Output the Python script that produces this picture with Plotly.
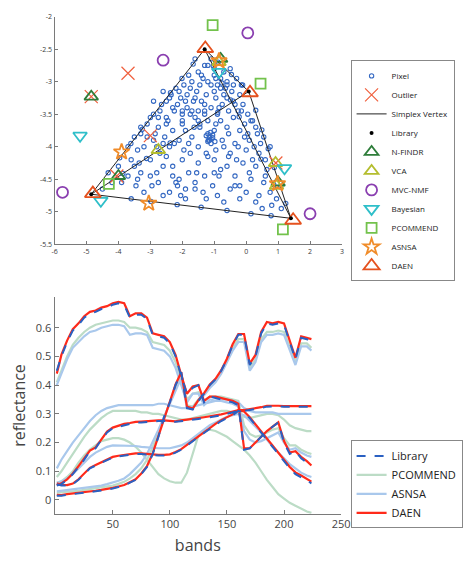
import plotly.graph_objects as go

# ---------------- top panel data ----------------
pixel_x = [-1.2,-1.0,-0.7,-1.5,-1.35,-0.95,-0.6,-0.3,-1.7,-1.95,-1.1,-0.8,-0.45,-2.2,-1.55,-2.35,-1.85,-1.25,-0.95,-0.6,-0.2,-2.05,-1.65,-1.4,-2.5,-0.35,-0.75,-1.1,-1.85,-2.25,-2.7,-1.5,-0.55,-0.1,
           -3.0,-2.5,-2.0,-1.6,-1.2,-0.8,-0.4,0.05,-3.3,-2.75,-2.3,-1.9,-1.45,-1.0,-0.6,-0.2,0.3,-3.5,-2.9,-2.55,-2.1,-1.7,-1.15,-1.15,-1.1,-0.75,-0.35,0.1,0.55,-3.2,-2.4,-1.95,-1.5,-0.95,-0.5,0.0,0.4,0.75,
           -3.6,-3.0,-2.5,-2.0,-1.5,-1.0,-0.6,-0.1,0.3,0.65,-3.3,-2.8,-2.3,-1.8,-1.3,-0.85,-0.35,0.15,0.55,-3.9,-3.45,-2.95,-2.15,-1.6,-1.05,-0.5,0.0,0.4,0.75,-2.6,-1.9,-1.25,-0.7,-0.2,0.3,0.8,-3.2,-2.2,
           -4.32,-3.96,-3.61,-3.25,-2.90,-2.65,-2.37,-2.01,-1.66,
           -3.6,-2.98,-2.16,-1.41,-0.6,0.15,0.78,
           0.3,0.49,0.69,0.88,1.08,1.24,
           -1.03,-0.76,-0.49,-0.22,0.05,0.46,0.86,
           -0.89,-1.63,-2.38,-3.12,-3.86,
           -0.88,-0.46,-0.11,
           -2.6,-2.9,-2.15,-1.75,-1.3,-0.9,-0.15,-1.45,-0.5,-1.6,-1.1,-2.45,-3.1,-3.4,-2.6,-1.75,-1.25,-0.25,0.2,-0.8,-1.55,-2.05,-2.75,-3.7,-4.2,-4.5,0.6,0.95,1.1,0.5,-0.35,-1.35,0.2,0.45,-0.05,-0.7,-1.3,-1.8,-2.0,-2.6,-1.2,-1.1,-1.2,-1.05,-1.0,-0.2,-3.0,-3.35,-2.3,-0.55,
           -1.4,-1.2,-0.9,-0.65,-1.75,-2.1,-2.4,-1.0,-0.4,-1.6,-1.9,-2.3,-2.75,-3.1,-1.3,-0.85,-0.25,0.15,-2.0,-2.5,-2.85,-3.3,-3.7,-1.45,-0.95,-0.55,-0.05,0.35,0.6,-1.8,-2.25,-2.7,-3.5,-4.0,-1.2,-0.7,-0.3,0.1,-1.6,-2.1,-1.05,-1.25,-1.18,-0.98,-1.12,-1.3,-1.0,-0.8,-0.6,-0.4,-1.7,-2.0,-1.5,-0.15,0.25,-2.8,-3.4,-2.4,-1.9,-0.9]
pixel_y = [-2.75,-2.8,-2.85,-2.85,-2.95,-2.95,-3.0,-2.95,-3.0,-3.05,-3.05,-3.1,-3.15,-3.1,-3.15,-3.2,-3.2,-3.2,-3.25,-3.25,-3.2,-3.25,-3.3,-3.3,-3.3,-3.35,-3.35,-3.4,-3.4,-3.45,-3.45,-3.45,-3.45,-3.35,
           -3.55,-3.55,-3.6,-3.55,-3.6,-3.6,-3.55,-3.5,-3.7,-3.7,-3.75,-3.75,-3.7,-3.75,-3.7,-3.75,-3.7,-3.85,-3.9,-3.85,-3.9,-3.85,-3.85,-3.9,-3.95,-3.9,-3.95,-3.9,-3.85,-4.0,-4.0,-4.05,-4.0,-4.05,-4.1,-4.05,-4.1,-4.0,
           -4.2,-4.2,-4.15,-4.2,-4.25,-4.2,-4.3,-4.25,-4.3,-4.35,-4.4,-4.4,-4.45,-4.4,-4.45,-4.45,-4.45,-4.5,-4.55,-4.55,-4.6,-4.6,-4.6,-4.65,-4.6,-4.65,-4.7,-4.75,-4.7,-4.75,-4.8,-4.8,-4.85,-4.8,-4.85,-4.9,-4.7,-4.55,
           -4.40,-4.17,-3.95,-3.73,-3.50,-3.35,-3.17,-2.95,-2.73,
           -4.80,-4.84,-4.89,-4.93,-4.98,-5.03,-5.06,
           -3.44,-3.74,-4.03,-4.32,-4.61,-4.87,
           -2.76,-3.02,-3.28,-3.54,-3.8,-4.19,-4.58,
           -3.47,-3.70,-3.94,-4.18,-4.41,
           -2.7,-2.89,-3.05,
           -3.15,-3.3,-3.35,-3.5,-3.5,-3.5,-3.05,-3.05,-2.8,-2.65,-2.65,-3.6,-3.85,-4.05,-4.3,-4.1,-4.1,-4.0,-4.2,-4.35,-4.4,-4.75,-4.55,-4.45,-4.55,-4.65,-4.45,-4.8,-4.95,-4.95,-4.6,-4.7,-3.6,-3.95,-3.65,-3.2,-3.35,-2.9,-3.5,-3.95,-3.8,-3.88,-3.92,-3.82,-4.4,-4.6,-4.45,-4.25,-4.3,-4.15,
           -2.9,-3.0,-3.05,-3.1,-3.1,-3.15,-3.25,-3.15,-3.05,-3.25,-3.3,-3.4,-3.55,-3.65,-3.45,-3.4,-3.45,-3.6,-3.65,-3.65,-3.8,-3.8,-4.0,-3.65,-3.65,-3.8,-3.85,-3.8,-4.2,-3.95,-3.95,-4.1,-4.3,-4.3,-4.15,-4.0,-4.2,-4.4,-4.55,-4.5,-3.86,-3.83,-3.9,-3.92,-3.78,-2.75,-2.9,-2.95,-3.05,-3.3,-3.45,-3.45,-3.6,-3.45,-4.0,-4.0,-4.5,-4.7,-4.65,-4.75]

outlier_x = [-3.7, -3.0, -4.85, 0.93, -4.05]
outlier_y = [-2.87, -3.83, -3.23, -4.25, -4.45]

lib_vx = [-1.3, 0.08, -4.85, 1.4]
lib_vy = [-2.5, -3.15, -4.73, -5.1]
simplex_edges = [(0, 1), (0, 2), (0, 3), (1, 2), (1, 3), (2, 3)]

nfindr_x = [-4.85, -0.8, 1.0, -4.0]
nfindr_y = [-3.23, -2.65, -4.55, -4.45]
vca_x = [-2.75, 0.92, -0.85, 0.95]
vca_y = [-4.05, -4.25, -2.7, -4.6]
mvc_x = [-2.6, 0.05, -5.75, 2.0]
mvc_y = [-2.67, -2.25, -4.7, -5.03]
bayes_x = [-5.2, -0.85, 1.2, -4.55]
bayes_y = [-3.83, -2.85, -4.33, -4.83]
pcom_x = [-1.05, 0.45, -4.3, 1.15]
pcom_y = [-2.13, -3.03, -4.57, -5.27]
asnsa_x = [-3.9, -3.05, -0.85, 0.98]
asnsa_y = [-4.08, -4.87, -2.68, -4.57]
daen_x = [-1.28, 0.12, -4.8, 1.47]
daen_y = [-2.49, -3.17, -4.72, -5.13]

top_xticks = [-6, -5, -4, -3, -2, -1, 0, 1, 2, 3]
top_xtext = ["-6", "-5", "-4", "-3", "-2", "-1", "0", "1", "2", "3"]
top_yticks = [-5.5, -5, -4.5, -4, -3.5, -3, -2.5, -2]
top_ytext = ["-5.5", "-5", "-4.5", "-4", "-3.5", "-3", "-2.5", "-2"]

# ---------------- bottom panel data ----------------
bands = [1,5,10,15,20,25,30,35,40,45,50,55,60,65,70,75,80,85,90,95,100,105,110,115,120,125,130,135,140,145,150,155,160,165,170,175,180,185,190,195,200,205,210,215,220,224]

lib_A = [0.45,0.50,0.55,0.59,0.61,0.635,0.65,0.655,0.665,0.67, 0.68,0.685,0.68,0.635,0.645,0.645,0.63,0.575,0.57,0.565, 0.545,0.50,0.43,0.37,0.39,0.40,0.34,0.36,0.355,0.35, 0.345,0.34,0.33,0.175,0.18,0.20,0.22,0.24,0.255,0.27, 0.20,0.16,0.17,0.145,0.13,0.115]
lib_B = [0.015,0.015,0.018,0.02,0.022,0.025,0.028,0.03,0.033,0.036, 0.04,0.045,0.05,0.06,0.07,0.09,0.115,0.16,0.22,0.29, 0.34,0.40,0.445,0.32,0.315,0.345,0.37,0.40,0.42,0.45, 0.49,0.54,0.575,0.575,0.47,0.50,0.58,0.615,0.61,0.615, 0.61,0.55,0.49,0.565,0.56,0.55]
lib_C = [0.05,0.055,0.07,0.09,0.115,0.14,0.17,0.18,0.21,0.235, 0.25,0.255,0.262,0.266,0.27,0.27,0.272,0.274,0.275,0.275, 0.275,0.272,0.274,0.276,0.28,0.282,0.285,0.288,0.29,0.295, 0.30,0.305,0.31,0.31,0.313,0.316,0.32,0.325,0.326,0.326, 0.325,0.326,0.325,0.325,0.326,0.325]
lib_D = [0.055,0.05,0.05,0.055,0.07,0.09,0.11,0.12,0.13,0.14, 0.148,0.152,0.155,0.158,0.16,0.16,0.158,0.156,0.155,0.155, 0.157,0.165,0.175,0.19,0.205,0.22,0.235,0.25,0.262,0.275, 0.285,0.295,0.31,0.305,0.285,0.26,0.235,0.21,0.185,0.16, 0.135,0.11,0.09,0.08,0.068,0.058]

daen_A = [0.44,0.505,0.555,0.595,0.615,0.64,0.655,0.66,0.67,0.675, 0.685,0.69,0.685,0.64,0.65,0.65,0.635,0.58,0.575,0.57, 0.55,0.505,0.435,0.37,0.395,0.40,0.345,0.36,0.36,0.355, 0.35,0.345,0.335,0.18,0.18,0.20,0.22,0.24,0.255,0.27, 0.205,0.165,0.17,0.15,0.135,0.12]
daen_B = [0.018,0.017,0.02,0.022,0.024,0.027,0.03,0.032,0.035,0.038, 0.042,0.047,0.052,0.062,0.072,0.092,0.118,0.162,0.222,0.29, 0.342,0.402,0.445,0.325,0.318,0.348,0.372,0.402,0.422,0.452, 0.492,0.542,0.578,0.578,0.475,0.505,0.585,0.62,0.615,0.62, 0.615,0.555,0.495,0.57,0.565,0.56]
daen_C = [0.052,0.058,0.072,0.092,0.118,0.143,0.172,0.183,0.212,0.238, 0.252,0.258,0.265,0.268,0.272,0.273,0.275,0.276,0.277,0.277, 0.276,0.274,0.277,0.279,0.282,0.285,0.288,0.291,0.293,0.298, 0.303,0.308,0.313,0.313,0.316,0.319,0.323,0.328,0.329,0.328, 0.327,0.328,0.327,0.327,0.328,0.327]
daen_D = [0.058,0.053,0.052,0.057,0.072,0.092,0.112,0.122,0.132,0.142, 0.15,0.154,0.157,0.16,0.162,0.162,0.16,0.158,0.157,0.157, 0.159,0.167,0.177,0.192,0.207,0.222,0.237,0.252,0.265,0.278, 0.288,0.298,0.313,0.308,0.288,0.264,0.24,0.215,0.19,0.165, 0.14,0.115,0.096,0.085,0.074,0.064]

asn_A = [0.40,0.44,0.49,0.53,0.55,0.57,0.585,0.59,0.60,0.605, 0.61,0.61,0.605,0.575,0.58,0.58,0.575,0.53,0.525,0.52, 0.50,0.46,0.40,0.34,0.37,0.37,0.33,0.35,0.345,0.345, 0.34,0.335,0.325,0.24,0.21,0.20,0.205,0.215,0.225,0.235, 0.20,0.175,0.18,0.165,0.155,0.15]
asn_B = [0.03,0.032,0.035,0.037,0.04,0.042,0.045,0.048,0.05,0.055, 0.06,0.067,0.075,0.09,0.11,0.13,0.16,0.2,0.245,0.29, 0.335,0.385,0.425,0.32,0.32,0.345,0.365,0.39,0.41,0.44, 0.48,0.52,0.55,0.55,0.45,0.48,0.55,0.575,0.575,0.58, 0.575,0.52,0.47,0.535,0.535,0.52]
asn_C = [0.11,0.14,0.17,0.20,0.225,0.25,0.275,0.295,0.31,0.32, 0.325,0.33,0.33,0.33,0.33,0.33,0.33,0.33,0.335,0.335, 0.33,0.325,0.32,0.32,0.325,0.33,0.335,0.34,0.345,0.35, 0.35,0.345,0.34,0.32,0.31,0.305,0.305,0.305,0.305,0.30, 0.30,0.30,0.30,0.30,0.30,0.30]
asn_D = [0.06,0.065,0.075,0.09,0.11,0.13,0.15,0.165,0.175,0.185, 0.19,0.19,0.19,0.19,0.188,0.185,0.183,0.18,0.18,0.18, 0.18,0.185,0.19,0.20,0.215,0.23,0.245,0.26,0.27,0.28, 0.29,0.295,0.30,0.295,0.275,0.255,0.235,0.21,0.185,0.165, 0.145,0.125,0.11,0.095,0.085,0.08]

pcm_A = [0.41,0.45,0.50,0.54,0.565,0.585,0.60,0.61,0.615,0.62, 0.625,0.625,0.62,0.60,0.60,0.595,0.585,0.55,0.545,0.54, 0.52,0.48,0.42,0.35,0.37,0.375,0.345,0.36,0.36,0.36, 0.355,0.35,0.345,0.26,0.23,0.22,0.225,0.235,0.245,0.25, 0.215,0.19,0.19,0.175,0.165,0.16]
pcm_B = [0.025,0.026,0.028,0.03,0.032,0.035,0.038,0.04,0.043,0.047, 0.05,0.056,0.063,0.075,0.09,0.11,0.14,0.185,0.235,0.285, 0.335,0.39,0.43,0.33,0.325,0.35,0.37,0.395,0.415,0.445, 0.485,0.53,0.56,0.56,0.46,0.49,0.56,0.585,0.585,0.59, 0.585,0.53,0.48,0.545,0.545,0.53]
pcm_C = [0.08,0.10,0.13,0.16,0.19,0.22,0.245,0.265,0.285,0.30, 0.31,0.31,0.31,0.31,0.31,0.305,0.305,0.30,0.30,0.295, 0.29,0.285,0.28,0.28,0.285,0.29,0.295,0.30,0.305,0.31, 0.31,0.305,0.30,0.29,0.285,0.29,0.295,0.30,0.30,0.295, 0.28,0.26,0.25,0.245,0.24,0.24]
pcm_D = [0.06,0.065,0.08,0.10,0.13,0.155,0.175,0.19,0.205,0.21, 0.215,0.215,0.21,0.20,0.185,0.165,0.14,0.115,0.09,0.075, 0.065,0.06,0.06,0.095,0.16,0.225,0.24,0.245,0.24,0.23, 0.22,0.205,0.19,0.175,0.155,0.13,0.10,0.07,0.045,0.02, 0.005,-0.01,-0.02,-0.03,-0.04,-0.045]

bot_xticks = [50, 100, 150, 200, 250]
bot_xtext = ["50", "100", "150", "200", "250"]
bot_yticks = [0, 0.1, 0.2, 0.3, 0.4, 0.5, 0.6]
bot_ytext = ["0", "0.1", "0.2", "0.3", "0.4", "0.5", "0.6"]

# ---------------- figure ----------------
FONT = "Open Sans"
fig = go.Figure()

# top panel
fig.add_trace(go.Scatter(x=pixel_x, y=pixel_y, mode="markers", name="Pixel",
                         marker=dict(symbol="circle-open", size=4.3, color="#3468c2", line=dict(width=1.1)),
                         legend="legend", legendrank=1, xaxis="x", yaxis="y"))
ex, ey = [], []
for a, b in simplex_edges:
    ex += [lib_vx[a], lib_vx[b], None]
    ey += [lib_vy[a], lib_vy[b], None]
fig.add_trace(go.Scatter(x=ex, y=ey, mode="lines", name="Simplex Vertex",
                         line=dict(color="#222222", width=1), legend="legend", legendrank=3,
                         xaxis="x", yaxis="y"))
fig.add_trace(go.Scatter(x=outlier_x, y=outlier_y, mode="markers", name="Outlier",
                         marker=dict(symbol="x-thin-open", size=13, color="#f0603e", line=dict(width=1.2, color="#f0603e")),
                         legend="legend", legendrank=2, xaxis="x", yaxis="y"))

methods = [
    ("N-FINDR", nfindr_x, nfindr_y, "triangle-up-open", 12, "#2e7d3a", 5),
    ("VCA", vca_x, vca_y, "triangle-up-open", 12, "#b4bd2e", 6),
    ("MVC-NMF", mvc_x, mvc_y, "circle-open", 11, "#8a3fb0", 7),
    ("Bayesian", bayes_x, bayes_y, "triangle-down-open", 12, "#2fbfc9", 8),
    ("PCOMMEND", pcom_x, pcom_y, "square-open", 10, "#73c24c", 9),
    ("ASNSA", asnsa_x, asnsa_y, "star-open", 12, "#f08c2a", 10),
    ("DAEN", daen_x, daen_y, "triangle-up-open", 14, "#e5521f", 11),
]
for name, mx, my, sym, sz, col, rk in methods:
    fig.add_trace(go.Scatter(x=mx, y=my, mode="markers", name=name,
                             marker=dict(symbol=sym, size=sz, color=col, line=dict(width=1.8, color=col)),
                             legend="legend", legendrank=rk, xaxis="x", yaxis="y"))
fig.add_trace(go.Scatter(x=lib_vx, y=lib_vy, mode="markers", name="Library",
                         marker=dict(symbol="circle", size=4, color="black"),
                         legend="legend", legendrank=4, xaxis="x", yaxis="y"))

# bottom panel
groups = [
    ("PCOMMEND", [pcm_A, pcm_B, pcm_C, pcm_D], dict(color="#bcdcc6", width=2.2), 2),
    ("ASNSA", [asn_A, asn_B, asn_C, asn_D], dict(color="#a9c8ec", width=2.2), 3),
    ("DAEN", [daen_A, daen_B, daen_C, daen_D], dict(color="#ff2a1a", width=2.2), 4),
    ("Library", [lib_A, lib_B, lib_C, lib_D], dict(color="#2a60c2", width=2, dash="dash"), 1),
]
for name, series, ln, rk in groups:
    for i, vals in enumerate(series):
        fig.add_trace(go.Scatter(x=bands, y=vals, mode="lines", name=name, line=ln,
                                 legend="legend2", legendgroup=name, showlegend=(i == 0),
                                 legendrank=rk, xaxis="x2", yaxis="y2"))

axcol = "#7a7a7a"
tickcol = "#3a3a3a"
fig.update_layout(
    width=464, height=563,
    margin=dict(l=0, r=0, t=0, b=0),
    paper_bgcolor="white", plot_bgcolor="white",
    font=dict(family=FONT, color=tickcol),
    xaxis=dict(domain=[0.114, 0.75], range=[-6, 3], tickvals=top_xticks, ticktext=top_xtext,
               showline=True, linecolor=axcol, linewidth=1, ticks="inside", ticklen=3, tickcolor=axcol,
               showgrid=False, zeroline=False, tickfont=dict(size=7, color=tickcol), anchor="y"),
    yaxis=dict(domain=[0.568, 0.979], range=[-5.5, -2], tickvals=top_yticks, ticktext=top_ytext,
               showline=True, linecolor=axcol, linewidth=1, ticks="inside", ticklen=3, tickcolor=axcol,
               showgrid=False, zeroline=False, tickfont=dict(size=7, color=tickcol), anchor="x"),
    xaxis2=dict(domain=[0.114, 0.748], range=[-1, 250], tickvals=bot_xticks, ticktext=bot_xtext,
                showline=True, linecolor=axcol, linewidth=1, ticks="inside", ticklen=4, tickcolor=axcol,
                showgrid=False, zeroline=False, tickfont=dict(size=11, color="#444"), anchor="y2",
                title=dict(text="bands", font=dict(size=16, color="#444"), standoff=9)),
    yaxis2=dict(domain=[0.0817, 0.4725], range=[-0.048, 0.706], tickvals=bot_yticks, ticktext=bot_ytext,
                showline=True, linecolor=axcol, linewidth=1, ticks="inside", ticklen=4, tickcolor=axcol,
                showgrid=False, zeroline=False, tickfont=dict(size=11, color="#444"), anchor="x2",
                title=dict(text="reflectance", font=dict(size=16, color="#444"), standoff=6)),
    legend=dict(x=0.769, y=0.9, xanchor="left", yanchor="top", bordercolor="#888", borderwidth=1,
                bgcolor="white", font=dict(size=8, color="#222"), tracegroupgap=0, itemwidth=30),
    legend2=dict(x=0.769, y=0.214, xanchor="left", yanchor="top", bordercolor="#888", borderwidth=1,
                 bgcolor="white", font=dict(size=11, color="#222"), tracegroupgap=0, itemwidth=30),
    showlegend=True,
)

fig.write_html("out.html", config={"displayModeBar": False},
               post_script="document.body.style.margin='0px';")
